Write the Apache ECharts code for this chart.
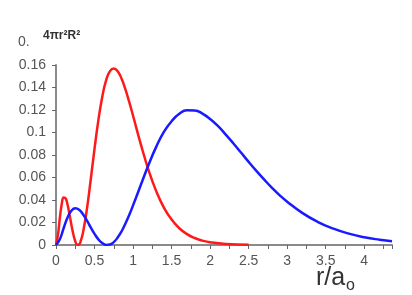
<!DOCTYPE html>
<html><head><meta charset="utf-8">
<script src="https://cdn.jsdelivr.net/npm/echarts@6/dist/echarts.min.js"></script>
<style>html,body{margin:0;padding:0;background:#fff}#c{width:412px;height:295px}</style>
</head><body><div id="c"></div>
<script>
const redX = [0,0.025,0.05,0.075,0.1,0.125,0.15,0.175,0.2,0.225,0.25,0.275,0.3,0.325,0.35,0.4,0.45,0.5,0.55,0.6,0.65,0.7,0.75,0.8,0.85,0.9,0.95,1.0,1.1,1.2,1.3,1.4,1.5,1.6,1.7,1.8,1.9,2.0,2.2,2.5];
const redY = [0,0.0088,0.0242,0.0365,0.0423,0.0415,0.0358,0.0272,0.0179,0.0095,0.0034,0.0003,0.0006,0.0045,0.0108,0.0314,0.0578,0.0856,0.111,0.1316,0.1463,0.1546,0.157,0.1545,0.148,0.1385,0.1272,0.1149,0.0897,0.0668,0.0479,0.0333,0.0226,0.0149,0.0097,0.0062,0.0039,0.0024,0.0009,0.0002];
const blueX = [0,0.05,0.1,0.15,0.2,0.25,0.3,0.35,0.4,0.45,0.5,0.55,0.6,0.65,0.7,0.75,0.8,0.85,0.9,0.95,1.0,1.1,1.2,1.3,1.4,1.5,1.6,1.7,1.8,1.9,2.0,2.1,2.2,2.3,2.4,2.5,2.6,2.7,2.8,2.9,3.0,3.2,3.4,3.6,3.8,4.0,4.2,4.36];
const blueY = [0,0.0052,0.0151,0.0244,0.0304,0.0326,0.0313,0.0273,0.0218,0.0157,0.0099,0.005,0.0017,0.0001,0.0004,0.0026,0.0066,0.012,0.0189,0.0266,0.0352,0.0533,0.0711,0.0872,0.1005,0.110,0.1167,0.1197,0.1196,0.1168,0.112,0.1058,0.0984,0.0905,0.0822,0.0739,0.0659,0.0583,0.051,0.0444,0.0385,0.0283,0.0204,0.0145,0.0101,0.0069,0.0047,0.0034];
const yTitle = '4πr²R²';
const xTitle = 'r/a';
const xSub = 'o';

const chart = echarts.init(document.getElementById('c'));
const pair = (xs, ys) => xs.map((x, i) => [x, ys[i]]);
chart.setOption({
  animation: false,
  grid: {left: 56, right: 20, top: 65, bottom: 50},
  xAxis: {
    type: 'value', min: 0, max: 4.36, interval: 0.25,
    axisLine: {lineStyle: {color: '#8a8a8a', width: 2}},
    axisTick: {show: true, length: 4, lineStyle: {color: '#666', width: 1}},
    splitLine: {show: false},
    axisLabel: {color: '#555', fontSize: 14, fontFamily: 'Liberation Sans', margin: 9,
      formatter: v => (Math.abs(v * 2 - Math.round(v * 2)) < 1e-6) ? String(+v.toFixed(2)) : ''}
  },
  yAxis: {
    type: 'value', min: 0, max: 0.16, interval: 0.02,
    axisLine: {show: true, lineStyle: {color: '#8a8a8a', width: 2}},
    axisTick: {show: true, length: 4, lineStyle: {color: '#666', width: 1}},
    splitLine: {show: false},
    axisLabel: {color: '#555', fontSize: 14, fontFamily: 'Liberation Sans', margin: 10,
      formatter: v => String(+v.toFixed(2))}
  },
  graphic: [
    {type: 'text', left: 43, top: 30, style: {text: yTitle, fill: '#333', font: 'bold 12px Liberation Sans'}},
    {type: 'text', left: 18, top: 35, style: {text: '0.', fill: '#555', font: '14px Liberation Sans'}},
    {type: 'text', left: 316, top: 266, style: {text: xTitle, fill: '#333', font: '25px Liberation Sans'}},
    {type: 'text', left: 346, top: 278, style: {text: xSub, fill: '#333', font: '16px Liberation Sans'}}
  ],
  series: [
    {type: 'line', data: pair(redX, redY), smooth: 0.5, showSymbol: false, lineStyle: {color: '#ff1a1a', width: 2.5}},
    {type: 'line', data: pair(blueX, blueY), smooth: 0.5, showSymbol: false, lineStyle: {color: '#1a1aff', width: 2.5}}
  ]
});
</script></body></html>
